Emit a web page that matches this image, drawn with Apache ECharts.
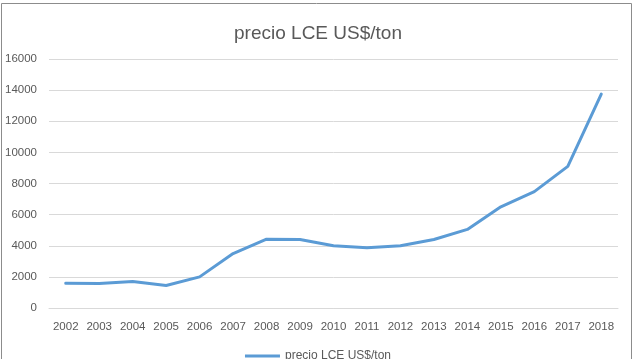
<!DOCTYPE html>
<html>
<head>
<meta charset="utf-8">
<script src="https://cdn.jsdelivr.net/npm/echarts@6/dist/echarts.min.js"></script>
<style>
  html, body { margin: 0; padding: 0; background: #fff; }
  #chart { width: 636px; height: 359px; }
</style>
</head>
<body>
<div id="chart"></div>
<script>
// años y precio LCE (US$/ton)
var years = ['2002', '2003', '2004', '2005', '2006', '2007', '2008', '2009', '2010',
             '2011', '2012', '2013', '2014', '2015', '2016', '2017', '2018'];
var precio = [1590, 1580, 1700, 1450, 2000, 3500, 4420, 4400, 4000,
              3870, 4000, 4400, 5050, 6500, 7480, 9100, 13750];
var yTicks = [0, 2000, 4000, 6000, 8000, 10000, 12000, 14000, 16000];

var txt = '#595959';
var font = '"Liberation Sans", "Noto Sans", sans-serif';

var my_chart = echarts.init(document.getElementById('chart'));

var option = {
    backgroundColor: '#fff',
    animation: false,
    title: {
        text: 'precio LCE US$/ton',
        left: 'center',
        top: 19,
        textStyle: { fontSize: 19, fontWeight: 'normal', color: txt, fontFamily: font }
    },
    // marco del gráfico
    graphic: [{
        type: 'rect',
        shape: { x: 1.5, y: 3.5, width: 630, height: 370 },
        style: { fill: 'none', stroke: '#8c8c8c', lineWidth: 1 },
        silent: true
    }],
    legend: {
        bottom: -8,
        left: 'center',
        icon: 'rect',
        itemWidth: 35,
        itemHeight: 3,
        itemGap: 4,
        textStyle: { fontSize: 12, color: txt, fontFamily: font }
    },
    grid: { left: 49, right: 18, top: 59, bottom: 51 },
    xAxis: {
        type: 'category',
        data: years,
        boundaryGap: true,
        axisLine: { show: true, lineStyle: { color: '#d9d9d9' } },
        axisTick: { show: false },
        axisLabel: { color: txt, fontSize: 11.5, fontFamily: font, margin: 13, interval: 0 }
    },
    yAxis: {
        type: 'value',
        min: yTicks[0],
        max: yTicks[yTicks.length - 1],
        interval: 2000,
        axisLine: { show: false },
        axisTick: { show: false },
        splitLine: { lineStyle: { color: '#d9d9d9' } },
        axisLabel: {
            color: txt, fontSize: 11.5, fontFamily: font, margin: 12,
            formatter: function (v) { return String(v); }
        }
    },
    series: [{
        name: 'precio LCE US$/ton',
        type: 'line',
        data: precio,
        symbol: 'none',
        smooth: false,
        lineStyle: { color: '#5b9bd5', width: 3, cap: 'round', join: 'round' },
        itemStyle: { color: '#5b9bd5' }
    }]
};

my_chart.setOption(option);
</script>
</body>
</html>
